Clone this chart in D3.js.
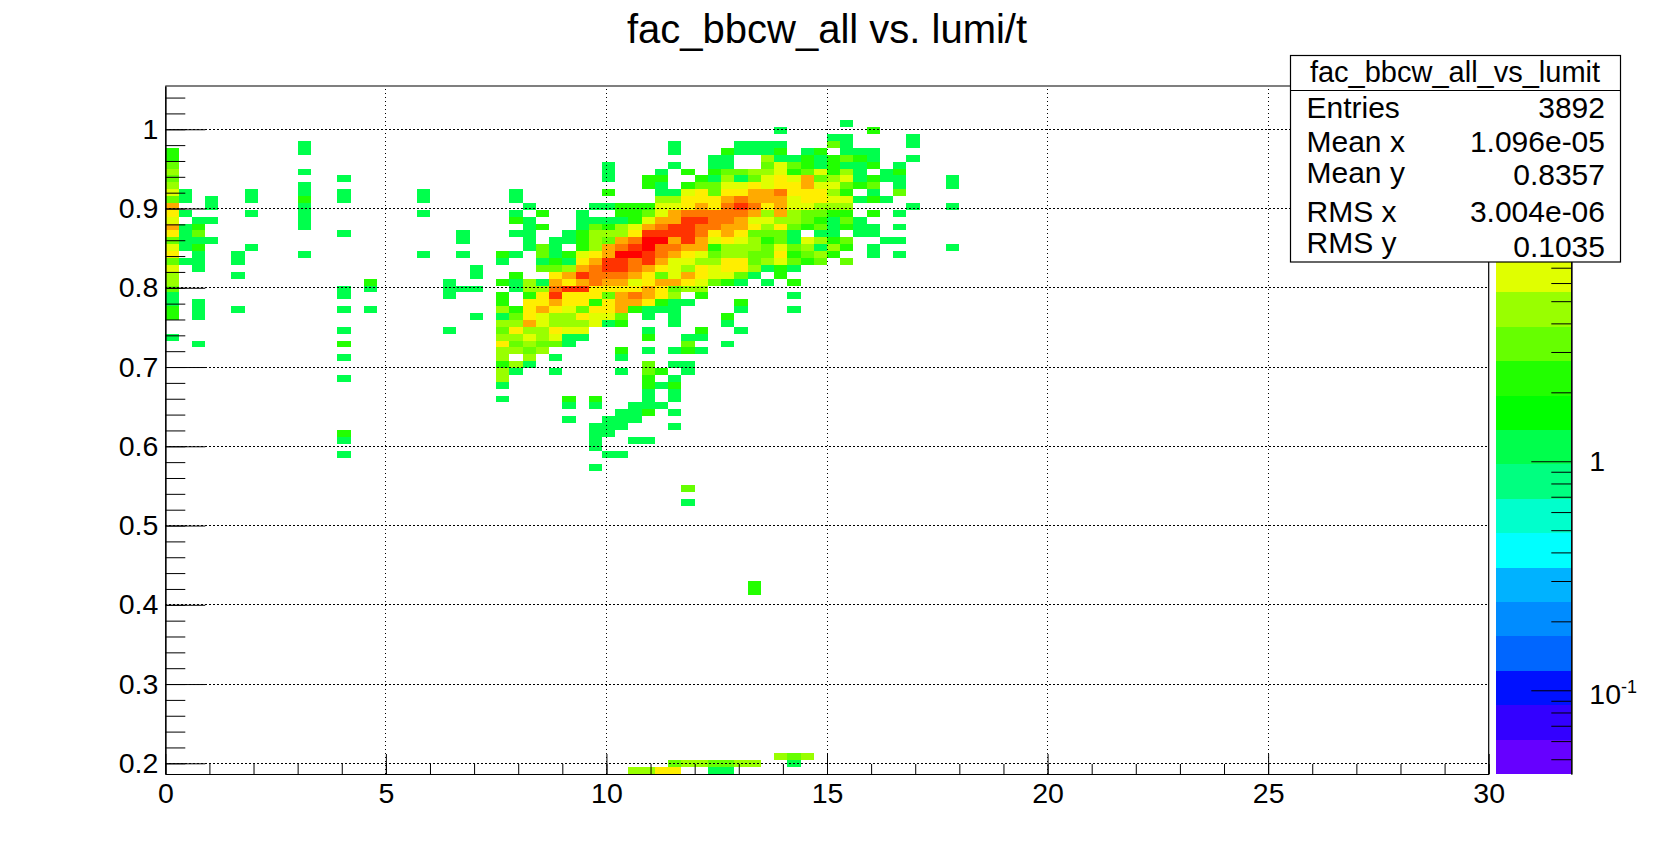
<!DOCTYPE html>
<html>
<head>
<meta charset="utf-8">
<script src="https://cdn.jsdelivr.net/npm/d3@7"></script>
<style>
html,body{margin:0;padding:0;background:#fff;overflow:hidden}
text{font-family:"Liberation Sans",Arial,sans-serif;fill:#000}
</style>
</head>
<body>
<svg id="c" width="1654" height="861"></svg>
<script>
// ---------- values ----------
const chartTitle = "fac_bbcw_all vs. lumi/t";
const xDomain = [0, 30];
const yDomain = [0.1865, 1.0546];
const zDomain = [0.0431, 43.5];
const xBinWidth = 0.3;
const yBinHeight = (yDomain[1] - yDomain[0]) / 100;
const xMajorTicks = [0, 5, 10, 15, 20, 25, 30];
const xMinorTicks = d3.range(0, 31, 1);
const yMajorTicks = [0.2, 0.3, 0.4, 0.5, 0.6, 0.7, 0.8, 0.9, 1.0];
const yMinorTicks = d3.range(0.2, 1.05, 0.02);
const zMajorTicks = [0.1, 1];
const zMinorTicks = [0.05, 0.06, 0.07, 0.08, 0.09, 0.2, 0.3, 0.4, 0.5, 0.6, 0.7, 0.8, 0.9, 2, 3, 4, 5, 6, 7];
const paletteColors = ["#6600ff","#3300ff","#0011ff","#0066ff","#008cff","#00b2ff","#00ffff","#00ffcc","#00ff80","#00ff4c",
                       "#00ff00","#22ff00","#66ff00","#99ff00","#e0ff00","#ffee00","#ffaa00","#ff7700","#ff3300","#ff0000"];
const statLabels = ["Entries", "Mean x", "Mean y", "RMS x", "RMS y"];
const statValues = ["3892", "1.096e-05", "0.8357", "3.004e-06", "0.1035"];
const statTitle = "fac_bbcw_all_vs_lumit";

// bin contents: row number, then runs of [first column, count, count, ...]
const rowNumbers = [94,93,92,91,90,89,88,87,86,85,84,83,82,81,80,79,78,77,76,75,74,73,72,71,70,69,68,67,66,65,64,63,62,61,60,59,58,57,56,55,54,53,52,51,50,49,48,47,46,44,41,39,27,26,2,1,0];
const rowRuns = [
[[51,1]],
[[46,1],[53,2]],
[[50,1,1],[56,1]],
[[10,1],[38,1],[43,1,1,1,1],[50,3,1],[56,1]],
[[0,2],[10,1],[38,1],[42,2,1,1,1,2],[48,1,2],[51,1,1,1]],
[[0,2],[41,1,1],[45,4,1,1,2,1,2,3,2,1],[56,1]],
[[0,3],[33,1],[38,1],[41,1,1],[45,3,6,3,2,1,2,1,1,2],[55,1]],
[[0,4],[10,1],[33,1],[37,1],[39,2],[41,2,3,3,4,4,6,2,3,6,2,4,1],[54,1,2]],
[[0,3],[13,1],[33,1],[36,2,2],[40,2,1,4,1,3,6,9,6,12,3,4,6,1,2,1,1],[59,1]],
[[0,4],[10,1],[36,2,1],[39,2,3,3,6,6,9,6,9,9,12,6,6,3,2,3],[55,1],[59,1]],
[[0,6,1],[6,1],[10,1],[13,1],[19,1],[26,1],[33,2],[37,1,1,6,9,3,9,9,12,12,18,9,9,9,4,2],[53,1],[55,3]],
[[0,3,1,0,1],[6,1],[10,2],[13,1],[19,1],[26,1],[37,4,4,9,9,9,12,18,12,12,12,6,9,9,6,6,1,2,1]],
[[0,12,0,0,1],[10,1],[27,1],[32,1,1,2,2,2,6,6,9,12,9,18,25,18,9,12,6,6,4,4,4],[56,1],[59,1]],
[[0,9,1],[6,1],[10,1],[19,1],[26,1],[28,2],[31,1],[34,2,2,3,6,12,18,18,18,18,18,12,4,12,4,3,3,2,2],[53,2],[55,1]],
[[0,6,0,1,1],[10,1],[26,2,1],[31,1,1,1,1,2,6,12,12,25,25,18,18,12,6,6,4,4,3,2,1,3,1]],
[[0,12,1,2],[10,1],[27,1,2],[31,1,3,2,4,6,12,18,25,25,18,18,12,12,9,4,9,3,2,3,1,2,1,1],[55,1]],
[[0,9,1,3],[13,1],[22,1],[26,1,1],[30,1,2,4,4,4,9,25,25,25,25,18,9,12,9,3,3,3,1],[49,1,1],[52,1,1]],
[[0,3,1,1,1],[22,1],[27,1],[29,1,1,2,4,3,12,18,35,35,12,25,12,6,9,6,4,2,3,1,6,4,2,3],[54,1,1]],
[[0,6,1,2],[6,1],[27,1,3,1],[31,2,4,12,18,25,35,18,18,12,12,2,4,4,4,3,6,3,4,1,4,2],[53,1],[59,1]],
[[0,9,0,1],[5,1],[10,1],[19,1],[22,1],[25,2,1,0,3,1,2,6,9,12,35,35,25,18,12,9,6,3,4,4,3,3,9,2,3,4,2],[53,1],[55,1]],
[[0,3,1,1],[5,1],[25,1],[28,1,2,1,9,12,25,25,18,25,12,6,6,4,4,9,9,3,4,6,3,2,3],[51,3]],
[[0,6,0,1],[23,1],[28,3,3,4,12,18,25,25,18,12,9,6,4,9,6,9,9,4,1,2,1]],
[[0,4],[5,1],[23,1],[26,2],[29,9,12,25,18,18,18,12,9,3,6,12,9,6,6,3,1,0,2]],
[[0,4],[15,2],[21,1],[25,2,1,4,1,12,9,12,18,12,12,6,9,12,12,9,6,3,2,1,0,1,0,2]],
[[0,3],[13,1],[15,1],[21,1,1,1],[26,1,4,4,18,25,25,9,9,9,9,12,9,3,4,4]],
[[0,1],[13,1],[21,1],[25,2,0,2,9,25,9,9,9,3,12,18,12,9,4],[40,2],[47,1]],
[[0,1,0,1],[25,2,0,9,9,12,9,9,2,9,12,12,9,2,1,1],[43,2]],
[[0,2,0,1],[5,1],[13,1],[15,1],[25,4,2,9,12,9,6,3,9,9,12,2,1,1,1],[43,1],[47,1]],
[[0,2,0,1],[23,1],[25,1,3,9,6,4,4,9,6,6,3,0,1,0,1],[42,2]],
[[25,4,4,12,6,4,4,4,6,1,2],[38,1],[42,1]],
[[13,1],[21,1],[25,3,9,4,4,9,6,6],[36,1],[40,2],[43,1]],
[[0,1],[25,4,4,6,4,6,1,1],[36,2],[39,1,1]],
[[2,1],[13,2],[25,9,3,4,3,3,1],[39,3],[42,1]],
[[25,4,4,3,4],[34,2],[36,1],[38,1,2,1]],
[[13,1],[25,4,0,4,0,1],[34,1]],
[[25,2,4,1],[36,3],[38,1,1]],
[[25,4,1],[29,1],[34,1],[36,3,2],[39,1]],
[[13,1],[25,4],[36,2],[38,1]],
[[25,1],[36,2,1,2]],
[[36,1],[38,1]],
[[25,1],[30,2],[32,2],[36,1],[38,1]],
[[30,1],[32,1],[35,1,1,1]],
[[34,1,1,2],[38,1]],
[[30,1],[33,1,1,1]],
[[32,1,1,1],[38,1]],
[[13,2],[32,1,1]],
[[13,1],[32,1],[35,1,1]],
[[32,1]],
[[13,1],[33,1,1]],
[[32,1]],
[[39,3]],
[[39,1]],
[[44,2]],
[[44,2]],
[[46,4,3,4]],
[[38,3,4,4,3,3,4,4],[47,1]],
[[35,4,4,9,9],[41,1,1]]
];

// ---------- layout ----------
const plot = {left:165.3, right:1488.7, top:86, bottom:774};
const bar = {left:1496, right:1571.3};
const box = {left:1290.5, right:1620.5, top:55.5, bottom:262, divider:90.5};
const statLabelBaselines = [117.7, 152, 182.7, 221.7, 252.7];
const statValueBaselines = [117.7, 152, 185, 221.7, 256.5];
const tickFont = 28.5;

const svg = d3.select("#c");
const x = d3.scaleLinear().domain(xDomain).range([plot.left, plot.right]);
const y = d3.scaleLinear().domain(yDomain).range([plot.bottom, plot.top]);
const z = d3.scaleLog().domain(zDomain).range([0, paletteColors.length]);
const zy = d3.scaleLog().domain(zDomain).range([plot.bottom, plot.top]);

const bandOf = v => Math.min(paletteColors.length - 1, Math.max(0, Math.floor(z(v))));

// expand runs into cells
const cells = [];
rowNumbers.forEach((row, i) => {
  rowRuns[i].forEach(run => {
    run.slice(1).forEach((count, k) => {
      if (count > 0) cells.push({col: run[0] + k, row, count});
    });
  });
});

// title
svg.append("text").attr("x", 827).attr("y", 43).attr("text-anchor", "middle")
  .attr("font-size", 40).text(chartTitle);

// cells
svg.append("g").attr("shape-rendering", "crispEdges").selectAll("rect").data(cells).join("rect")
  .attr("x", d => x(d.col * xBinWidth))
  .attr("width", d => x((d.col + 1) * xBinWidth) - x(d.col * xBinWidth))
  .attr("y", d => y(yDomain[0] + (d.row + 1) * yBinHeight))
  .attr("height", d => y(yDomain[0] + d.row * yBinHeight) - y(yDomain[0] + (d.row + 1) * yBinHeight))
  .attr("fill", d => paletteColors[bandOf(d.count)]);

// grid
const grid = svg.append("g").attr("stroke", "#000").attr("stroke-width", 1)
  .attr("stroke-dasharray", "1.5,2.5").attr("shape-rendering", "crispEdges");
grid.selectAll(".gx").data(xMajorTicks.slice(1, -1)).join("line")
  .attr("x1", d => x(d)).attr("x2", d => x(d)).attr("y1", plot.bottom).attr("y2", plot.top);
grid.selectAll(".gy").data(yMajorTicks).join("line")
  .attr("y1", d => y(d)).attr("y2", d => y(d)).attr("x1", plot.left).attr("x2", plot.right);

// axes
function styleAxis(g){
  g.attr("font-size", null).attr("font-family", null);
  g.selectAll("path").attr("stroke", "#000").attr("stroke-width", 1.2);
  g.selectAll("line").attr("stroke", "#000").attr("stroke-width", 1);
  g.selectAll("text").attr("font-size", tickFont).attr("fill", "#000");
  return g;
}
svg.append("g").attr("transform", `translate(0,${plot.bottom})`)
  .call(d3.axisBottom(x).tickValues(xMinorTicks).tickSize(-10).tickSizeOuter(0).tickFormat(""))
  .call(styleAxis);
svg.append("g").attr("transform", `translate(0,${plot.bottom})`)
  .call(d3.axisBottom(x).tickValues(xMajorTicks).tickSize(-20).tickSizeOuter(0).tickPadding(9).tickFormat(d3.format("d")))
  .call(styleAxis);
svg.append("g").attr("transform", `translate(${plot.left},0)`)
  .call(d3.axisLeft(y).tickValues(yMinorTicks).tickSize(-20).tickSizeOuter(0).tickFormat(""))
  .call(styleAxis);
svg.append("g").attr("transform", `translate(${plot.left},0)`)
  .call(d3.axisLeft(y).tickValues(yMajorTicks).tickSize(-40).tickSizeOuter(0).tickPadding(7)
        .tickFormat(d => d === 1 ? "1" : d3.format(".1f")(d)))
  .call(styleAxis);

// frame top and right
svg.append("path").attr("fill", "none").attr("stroke", "#000").attr("stroke-width", 1.2)
  .attr("d", d3.line()([[plot.left, plot.top], [plot.right, plot.top], [plot.right, plot.bottom]]));

// colour bar
svg.append("g").attr("shape-rendering", "crispEdges").selectAll("rect").data(paletteColors).join("rect")
  .attr("x", bar.left).attr("width", bar.right - bar.left)
  .attr("y", (c, i) => zy(z.invert(i + 1)))
  .attr("height", (c, i) => zy(z.invert(i)) - zy(z.invert(i + 1)))
  .attr("fill", c => c);
svg.append("g").attr("transform", `translate(${bar.right},0)`)
  .call(d3.axisRight(zy).tickValues(zMinorTicks).tickSize(-20).tickSizeOuter(0).tickFormat(""))
  .call(styleAxis);
const zAxis = svg.append("g").attr("transform", `translate(${bar.right},0)`)
  .call(d3.axisRight(zy).tickValues(zMajorTicks).tickSize(-40).tickSizeOuter(0).tickPadding(18).tickFormat(""))
  .call(styleAxis);
zAxis.selectAll(".tick text").each(function(d){
  const t = d3.select(this).attr("font-size", tickFont);
  if (d === 1) { t.text("1"); return; }
  const exp = Math.round(Math.log10(d));
  t.attr("transform", "translate(0,4)").text("10");
  t.append("tspan").attr("font-size", 18).attr("dy", "-0.62em").text(exp);
});

// stats box
svg.append("rect").attr("x", box.left).attr("y", box.top)
  .attr("width", box.right - box.left).attr("height", box.bottom - box.top)
  .attr("fill", "#fff").attr("stroke", "#000").attr("stroke-width", 1.2);
svg.append("line").attr("x1", box.left).attr("x2", box.right).attr("y1", box.divider).attr("y2", box.divider)
  .attr("stroke", "#000").attr("stroke-width", 1.2);
svg.append("text").attr("x", (box.left + box.right) / 2 - 0.5).attr("y", 82)
  .attr("text-anchor", "middle").attr("font-size", 29).text(statTitle);
statLabels.forEach((label, i) => {
  svg.append("text").attr("x", 1306.5).attr("y", statLabelBaselines[i]).attr("font-size", 30).text(label);
  svg.append("text").attr("x", 1605).attr("y", statValueBaselines[i]).attr("text-anchor", "end").attr("font-size", 30).text(statValues[i]);
});
</script>
</body>
</html>
